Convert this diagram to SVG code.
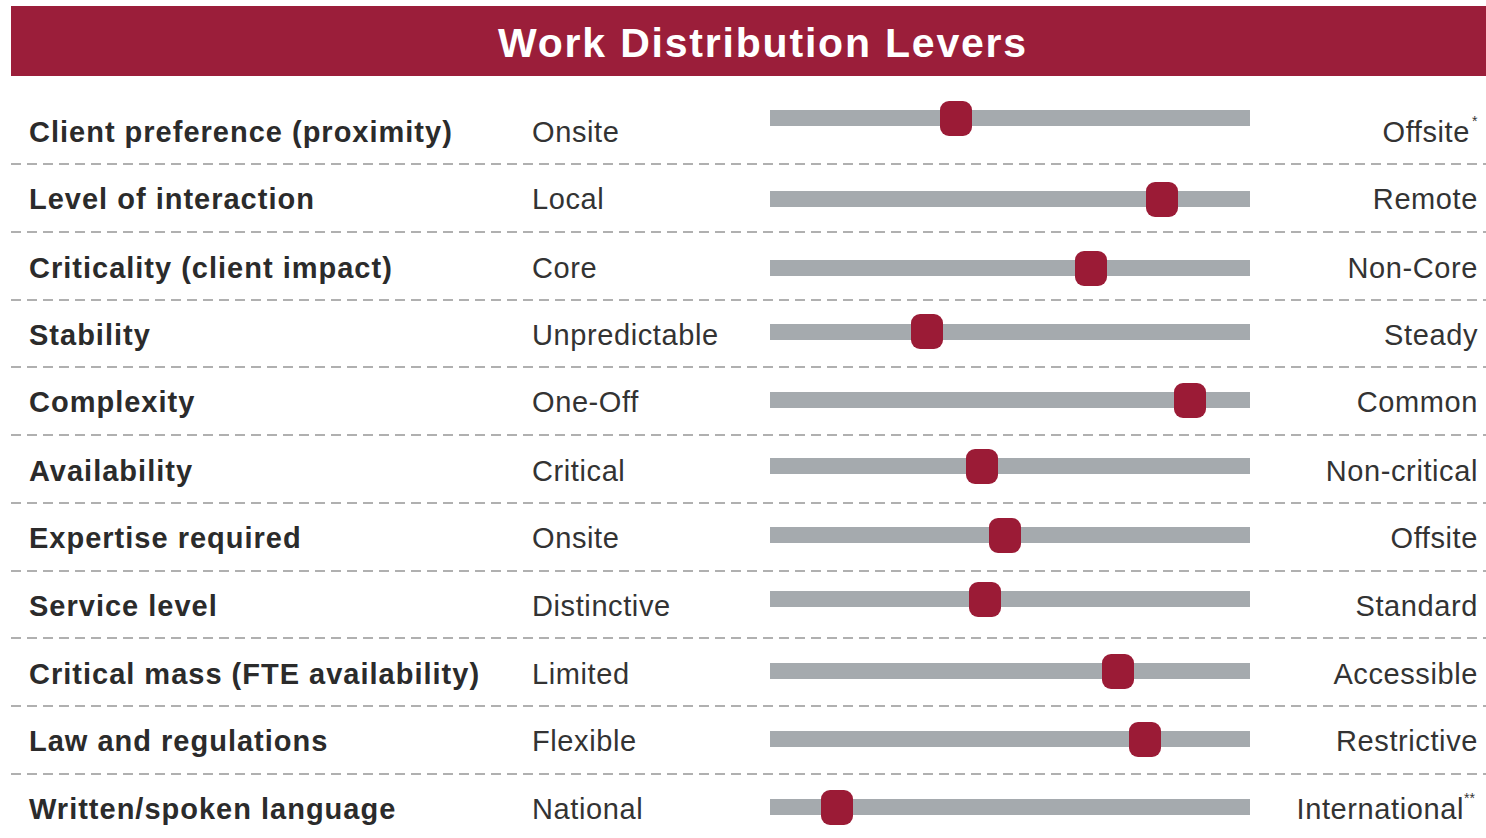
<svg xmlns="http://www.w3.org/2000/svg" width="1486" height="838" viewBox="0 0 1486 838">
<style>
.lbl{font-family:"Liberation Sans",Arial,sans-serif;font-weight:bold;font-size:29px;letter-spacing:1px;fill:#2b2b2b}
.lo{font-family:"Liberation Sans",Arial,sans-serif;font-size:29px;letter-spacing:0.6px;fill:#333}
.hi{font-family:"Liberation Sans",Arial,sans-serif;font-size:29px;letter-spacing:0.6px;fill:#333;text-anchor:end}
.sup{font-size:14px;letter-spacing:0}
.bar{fill:#a5aaae}
.knob{fill:#9b1b36}
.sep{stroke:#b0b0b0;stroke-width:2;stroke-dasharray:10 6;fill:none}
.title{font-family:"Liberation Sans",Arial,sans-serif;font-weight:bold;font-size:41px;letter-spacing:1.8px;fill:#fff;text-anchor:middle}
</style>
<rect width="1486" height="838" fill="#fff"/>
<g id="header">
<rect x="11" y="6" width="1475" height="70" fill="#9b1e3a"/>
<text class="title" x="763" y="57">Work Distribution Levers</text>
</g>
<g id="separators">
<line class="sep" x1="11" y1="164" x2="1486" y2="164"/>
<line class="sep" x1="11" y1="232" x2="1486" y2="232"/>
<line class="sep" x1="11" y1="300" x2="1486" y2="300"/>
<line class="sep" x1="11" y1="367" x2="1486" y2="367"/>
<line class="sep" x1="11" y1="435" x2="1486" y2="435"/>
<line class="sep" x1="11" y1="503" x2="1486" y2="503"/>
<line class="sep" x1="11" y1="571" x2="1486" y2="571"/>
<line class="sep" x1="11" y1="638" x2="1486" y2="638"/>
<line class="sep" x1="11" y1="706" x2="1486" y2="706"/>
<line class="sep" x1="11" y1="774" x2="1486" y2="774"/>
</g>
<g id="row1">
<text class="lbl" x="29" y="142">Client preference (proximity)</text>
<text class="lo" x="532" y="142">Onsite</text>
<rect class="bar" x="770" y="110" width="480" height="16"/>
<rect class="knob" x="940" y="101" width="32" height="35" rx="9"/>
<text class="hi" x="1470" y="142">Offsite</text><text class="lo sup" x="1472" y="126">*</text>
</g>
<g id="row2">
<text class="lbl" x="29" y="209">Level of interaction</text>
<text class="lo" x="532" y="209">Local</text>
<rect class="bar" x="770" y="191" width="480" height="16"/>
<rect class="knob" x="1146" y="182" width="32" height="35" rx="9"/>
<text class="hi" x="1478" y="209">Remote</text>
</g>
<g id="row3">
<text class="lbl" x="29" y="278">Criticality (client impact)</text>
<text class="lo" x="532" y="278">Core</text>
<rect class="bar" x="770" y="260" width="480" height="16"/>
<rect class="knob" x="1075" y="251" width="32" height="35" rx="9"/>
<text class="hi" x="1478" y="278">Non-Core</text>
</g>
<g id="row4">
<text class="lbl" x="29" y="345">Stability</text>
<text class="lo" x="532" y="345">Unpredictable</text>
<rect class="bar" x="770" y="324" width="480" height="16"/>
<rect class="knob" x="911" y="314" width="32" height="35" rx="9"/>
<text class="hi" x="1478" y="345">Steady</text>
</g>
<g id="row5">
<text class="lbl" x="29" y="412">Complexity</text>
<text class="lo" x="532" y="412">One-Off</text>
<rect class="bar" x="770" y="392" width="480" height="16"/>
<rect class="knob" x="1174" y="383" width="32" height="35" rx="9"/>
<text class="hi" x="1478" y="412">Common</text>
</g>
<g id="row6">
<text class="lbl" x="29" y="481">Availability</text>
<text class="lo" x="532" y="481">Critical</text>
<rect class="bar" x="770" y="458" width="480" height="16"/>
<rect class="knob" x="966" y="449" width="32" height="35" rx="9"/>
<text class="hi" x="1478" y="481">Non-critical</text>
</g>
<g id="row7">
<text class="lbl" x="29" y="548">Expertise required</text>
<text class="lo" x="532" y="548">Onsite</text>
<rect class="bar" x="770" y="527" width="480" height="16"/>
<rect class="knob" x="989" y="518" width="32" height="35" rx="9"/>
<text class="hi" x="1478" y="548">Offsite</text>
</g>
<g id="row8">
<text class="lbl" x="29" y="616">Service level</text>
<text class="lo" x="532" y="616">Distinctive</text>
<rect class="bar" x="770" y="591" width="480" height="16"/>
<rect class="knob" x="969" y="582" width="32" height="35" rx="9"/>
<text class="hi" x="1478" y="616">Standard</text>
</g>
<g id="row9">
<text class="lbl" x="29" y="684">Critical mass (FTE availability)</text>
<text class="lo" x="532" y="684">Limited</text>
<rect class="bar" x="770" y="663" width="480" height="16"/>
<rect class="knob" x="1102" y="654" width="32" height="35" rx="9"/>
<text class="hi" x="1478" y="684">Accessible</text>
</g>
<g id="row10">
<text class="lbl" x="29" y="751">Law and regulations</text>
<text class="lo" x="532" y="751">Flexible</text>
<rect class="bar" x="770" y="731" width="480" height="16"/>
<rect class="knob" x="1129" y="722" width="32" height="35" rx="9"/>
<text class="hi" x="1478" y="751">Restrictive</text>
</g>
<g id="row11">
<text class="lbl" x="29" y="819">Written/spoken language</text>
<text class="lo" x="532" y="819">National</text>
<rect class="bar" x="770" y="799" width="480" height="16"/>
<rect class="knob" x="821" y="790" width="32" height="35" rx="9"/>
<text class="hi" x="1464" y="819">International</text><text class="lo sup" x="1464" y="803">**</text>
</g>
</svg>
